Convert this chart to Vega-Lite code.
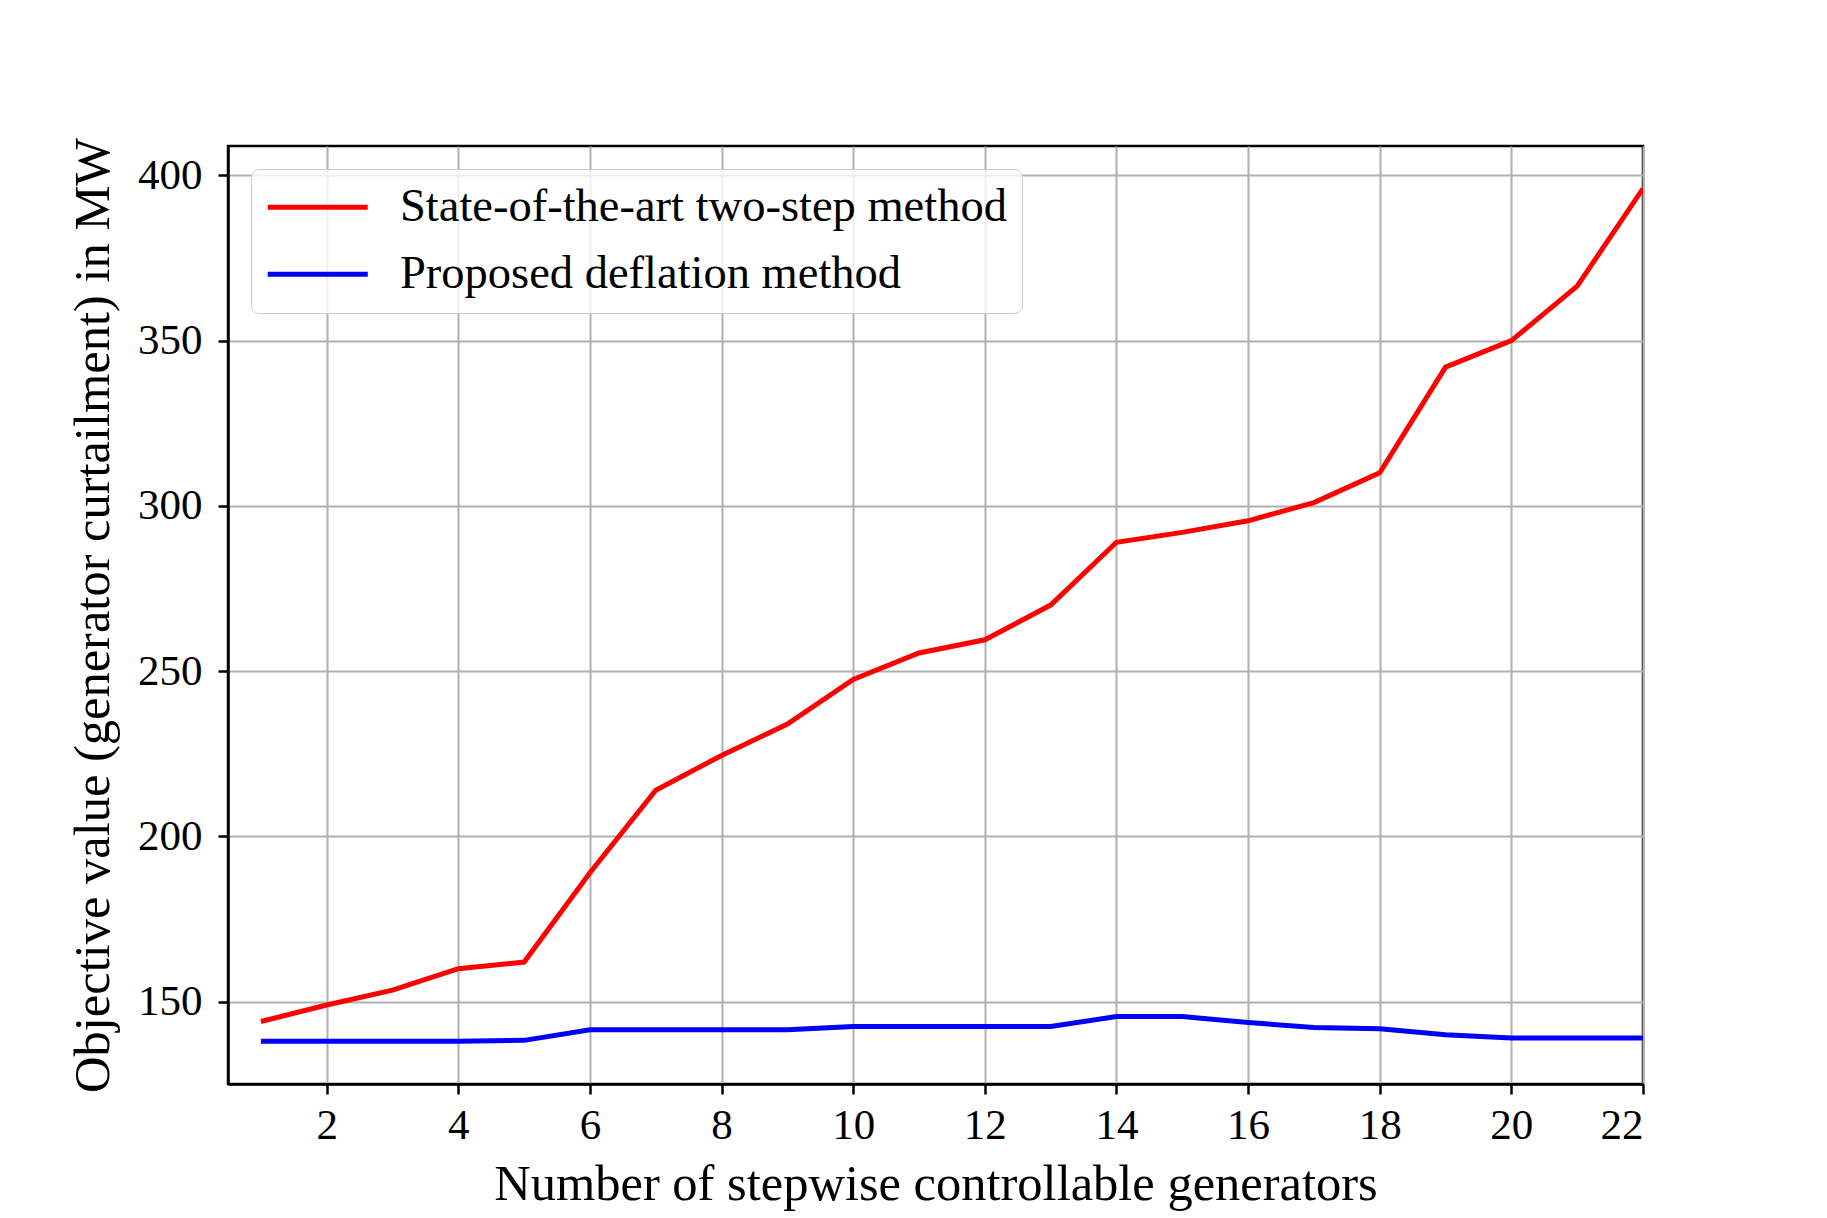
{
  "$schema": "https://vega.github.io/schema/vega-lite/v6.json",
  "width": 1415,
  "height": 938,
  "autosize": {"type": "none"},
  "padding": {"left": 228, "top": 146, "right": 184, "bottom": 134},
  "background": "white",
  "config": {
    "font": "Liberation Serif",
    "view": {"stroke": "black", "strokeWidth": 2.5},
    "axis": {
      "labelFont": "Liberation Serif",
      "titleFont": "Liberation Serif",
      "labelColor": "black",
      "titleColor": "black",
      "titleFontWeight": "normal",
      "domainColor": "black",
      "domainWidth": 2.5,
      "tickColor": "black",
      "tickWidth": 2.5,
      "tickSize": 10,
      "gridColor": "#b0b0b0",
      "gridWidth": 2,
      "gridOpacity": 1
    }
  },
  "data": {
    "values": [
      {"n": 1, "v": 144, "m": "State-of-the-art two-step method"},
      {"n": 2, "v": 149, "m": "State-of-the-art two-step method"},
      {"n": 3, "v": 153.5, "m": "State-of-the-art two-step method"},
      {"n": 4, "v": 160, "m": "State-of-the-art two-step method"},
      {"n": 5, "v": 162, "m": "State-of-the-art two-step method"},
      {"n": 6, "v": 189, "m": "State-of-the-art two-step method"},
      {"n": 7, "v": 214, "m": "State-of-the-art two-step method"},
      {"n": 8, "v": 224.5, "m": "State-of-the-art two-step method"},
      {"n": 9, "v": 234, "m": "State-of-the-art two-step method"},
      {"n": 10, "v": 247.5, "m": "State-of-the-art two-step method"},
      {"n": 11, "v": 255.5, "m": "State-of-the-art two-step method"},
      {"n": 12, "v": 259.5, "m": "State-of-the-art two-step method"},
      {"n": 13, "v": 270, "m": "State-of-the-art two-step method"},
      {"n": 14, "v": 289, "m": "State-of-the-art two-step method"},
      {"n": 15, "v": 292, "m": "State-of-the-art two-step method"},
      {"n": 16, "v": 295.5, "m": "State-of-the-art two-step method"},
      {"n": 17, "v": 301, "m": "State-of-the-art two-step method"},
      {"n": 18, "v": 310, "m": "State-of-the-art two-step method"},
      {"n": 19, "v": 342, "m": "State-of-the-art two-step method"},
      {"n": 20, "v": 350, "m": "State-of-the-art two-step method"},
      {"n": 21, "v": 366.5, "m": "State-of-the-art two-step method"},
      {"n": 22, "v": 396, "m": "State-of-the-art two-step method"},
      {"n": 1, "v": 138, "m": "Proposed deflation method"},
      {"n": 2, "v": 138, "m": "Proposed deflation method"},
      {"n": 3, "v": 138, "m": "Proposed deflation method"},
      {"n": 4, "v": 138, "m": "Proposed deflation method"},
      {"n": 5, "v": 138.3, "m": "Proposed deflation method"},
      {"n": 6, "v": 141.5, "m": "Proposed deflation method"},
      {"n": 7, "v": 141.5, "m": "Proposed deflation method"},
      {"n": 8, "v": 141.5, "m": "Proposed deflation method"},
      {"n": 9, "v": 141.5, "m": "Proposed deflation method"},
      {"n": 10, "v": 142.5, "m": "Proposed deflation method"},
      {"n": 11, "v": 142.5, "m": "Proposed deflation method"},
      {"n": 12, "v": 142.5, "m": "Proposed deflation method"},
      {"n": 13, "v": 142.5, "m": "Proposed deflation method"},
      {"n": 14, "v": 145.5, "m": "Proposed deflation method"},
      {"n": 15, "v": 145.5, "m": "Proposed deflation method"},
      {"n": 16, "v": 143.7, "m": "Proposed deflation method"},
      {"n": 17, "v": 142.2, "m": "Proposed deflation method"},
      {"n": 18, "v": 141.8, "m": "Proposed deflation method"},
      {"n": 19, "v": 140, "m": "Proposed deflation method"},
      {"n": 20, "v": 139, "m": "Proposed deflation method"},
      {"n": 21, "v": 139, "m": "Proposed deflation method"},
      {"n": 22, "v": 139, "m": "Proposed deflation method"}
    ]
  },
  "mark": {"type": "line", "strokeWidth": 5, "clip": true},
  "encoding": {
    "x": {
      "field": "n",
      "type": "quantitative",
      "scale": {"domain": [0.5, 22], "nice": false, "zero": false},
      "axis": {
        "values": [2, 4, 6, 8, 10, 12, 14, 16, 18, 20, 22],
        "title": "Number of stepwise controllable generators",
        "labelFontSize": 43,
        "titleFontSize": 50.5,
        "labelPadding": 10,
        "titlePadding": 12
      }
    },
    "y": {
      "field": "v",
      "type": "quantitative",
      "scale": {"domain": [125.1, 408.9], "nice": false, "zero": false},
      "axis": {
        "values": [150, 200, 250, 300, 350, 400],
        "title": "Objective value (generator curtailment) in MW",
        "labelFontSize": 43,
        "titleFontSize": 50.5,
        "labelPadding": 16,
        "titlePadding": 18
      }
    },
    "color": {
      "field": "m",
      "type": "nominal",
      "scale": {
        "domain": ["State-of-the-art two-step method", "Proposed deflation method"],
        "range": ["#ff0000", "#0000ff"]
      },
      "legend": {
        "title": null,
        "orient": "none",
        "legendX": 23,
        "legendY": 23,
        "symbolType": "M-1.72,0L6.28,0",
        "symbolSize": 625,
        "symbolStrokeWidth": 5,
        "labelFont": "Liberation Serif",
        "labelFontSize": 46.5,
        "labelColor": "black",
        "labelOffset": 87.5,
        "labelLimit": 1000,
        "rowPadding": 20,
        "padding": 15,
        "fillColor": "rgba(255,255,255,0.8)",
        "strokeColor": "#cccccc",
        "cornerRadius": 8
      }
    }
  }
}
